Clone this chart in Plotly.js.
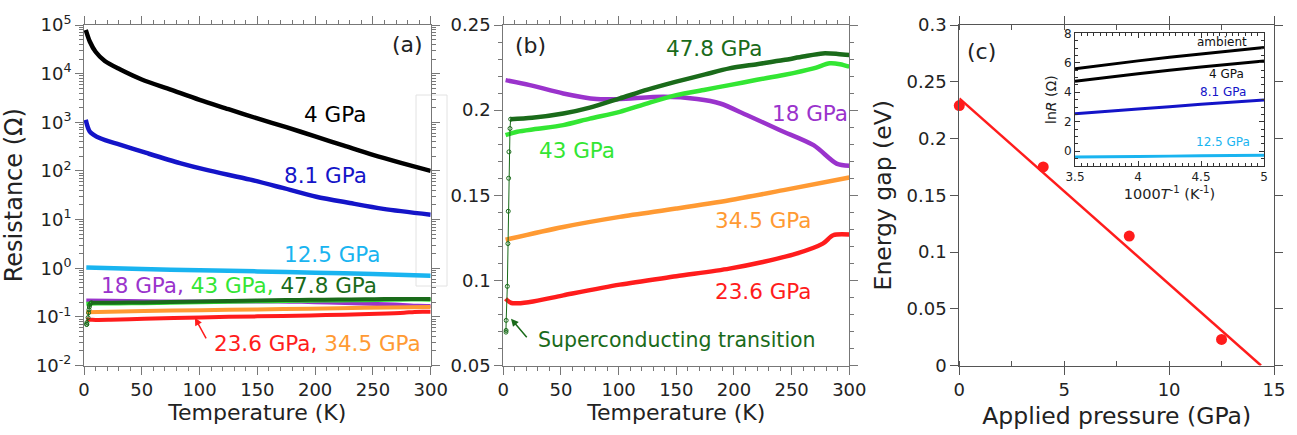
<!DOCTYPE html>
<html><head><meta charset="utf-8">
<script src="https://cdn.plot.ly/plotly-3.0.1.min.js"></script>
<style>html,body{margin:0;padding:0;background:#fff}#chart{width:1297px;height:435px}</style>
</head><body><div id="chart"></div>
<script>
// ---------- Panel (a): log resistance ----------
const T_4 = [1.5,5,10,18,31,50,75,100,125,150,175,200,225,250,275,300];
const R_4 = [79400,45700,28200,18200,12300,7590,4680,2880,1860,1200,794,513,331,214,145,100];
const T_81 = [1.5,5,14,31,54,83,106,144,172,201,230,259,300];
const R_81 = [1122,646,468,347,234,145,105,66.1,44.7,29.5,21.9,16.6,12.6];
const T_125 = [2,50,100,150,200,250,300];
const R_125 = [1.04,0.96,0.91,0.86,0.81,0.76,0.70];
const logTickVals = [0.01,0.1,1,10,100,1000,10000,100000];
const logTickText = ['10<sup>-2</sup>','10<sup>-1</sup>','10<sup>0</sup>','10<sup>1</sup>','10<sup>2</sup>','10<sup>3</sup>','10<sup>4</sup>','10<sup>5</sup>'];

// ---------- Panel (b): linear resistance ----------
const T_478 = [6,25,52,75,101,125,150,175,196,220,243,260,277,290,300];
const R_478 = [0.1947,0.1955,0.198,0.2015,0.2069,0.212,0.2167,0.2210,0.2245,0.227,0.2294,0.2315,0.2333,0.2330,0.2324];
const T_sc = [2.3,2.4,2.5,3.5,4.0,4.3,4.6,4.9,5.8,6.4];
const R_sc = [0.0696,0.0706,0.0765,0.0965,0.1216,0.1406,0.160,0.1755,0.1892,0.1947];
const T_43 = [2,12,30,52,75,101,125,150,175,196,220,243,269,283,292,300];
const R_43 = [0.1853,0.1873,0.189,0.1912,0.195,0.199,0.204,0.2088,0.212,0.2147,0.2178,0.2206,0.2245,0.2275,0.227,0.2255];
const T_18 = [2,23,52,81,101,139,168,188,211,240,269,289,300];
const R_18 = [0.2176,0.2147,0.2098,0.2065,0.2065,0.2078,0.2065,0.2039,0.1971,0.1882,0.1794,0.1686,0.1673];
const T_345 = [2,52,101,150,196,243,300];
const R_345 = [0.1239,0.1314,0.1373,0.1422,0.1471,0.153,0.1604];
const T_236 = [2,7,23,52,101,150,196,225,254,277,286,300];
const R_236 = [0.0892,0.0867,0.0873,0.0912,0.0975,0.1024,0.1069,0.1108,0.1157,0.1216,0.1265,0.1269];

// ---------- Panel (c): energy gap ----------
const pressure = [0,4,8.1,12.5];
const energyGap = [0.229,0.175,0.114,0.023];
const fitP = [0,14.38];
const fitE = [0.2353,0];

// ---------- Inset ----------
const invT = [3.5,4,4.5,5];
const lnR_amb = [5.6,6.13,6.6,7.04];
const lnR_4 = [4.75,5.26,5.72,6.13];
const lnR_81 = [2.54,2.86,3.18,3.47];
const lnR_125 = [-0.39,-0.35,-0.31,-0.27];

const C = {black:'#000000', blue:'#1414c8', cyan:'#19b4f0', purple:'#9a33cc',
  lgreen:'#33e633', dgreen:'#1a6b1a', orange:'#ff9a33', red:'#ff1c1c'};
const FONT = 'DejaVu Sans';
const W = 1297, H = 435;
const px = v => v / W, py = v => (H - v) / H;

// minor tick positions for the log axis (2..9 per decade)
const logMinor = [];
for (let e = -2; e < 5; e++) for (let m = 2; m <= 9; m++) logMinor.push(m * Math.pow(10, e));

function ln(x, y, color, xa, ya, w, extra) {
  return Object.assign({x, y, xaxis: xa, yaxis: ya, mode: 'lines',
    line: {color, width: w, shape: 'spline', smoothing: 0.8}, hoverinfo: 'skip', showlegend: false}, extra || {});
}

const traces = [
  // (a)
  ln(T_4, R_4, C.black, 'x', 'y', 4.5),
  ln(T_81, R_81, C.blue, 'x', 'y', 4.5),
  ln(T_125, R_125, C.cyan, 'x', 'y', 4.5),
  ln(T_18, R_18, C.purple, 'x', 'y', 4),
  ln(T_345, R_345, C.orange, 'x', 'y', 4),
  ln(T_236, R_236, C.red, 'x', 'y', 4),
  ln(T_43, R_43, C.lgreen, 'x', 'y', 4),
  ln(T_478, R_478, C.dgreen, 'x', 'y', 4),
  {x: T_sc, y: R_sc, xaxis: 'x', yaxis: 'y', mode: 'lines+markers', line: {color: C.dgreen, width: 1},
   marker: {symbol: 'circle-open', size: 4, color: C.dgreen}, hoverinfo: 'skip', showlegend: false},
  // (b)
  ln(T_18, R_18, C.purple, 'x2', 'y2', 4.5),
  ln(T_345, R_345, C.orange, 'x2', 'y2', 4.5),
  ln(T_236, R_236, C.red, 'x2', 'y2', 4.5),
  ln(T_43, R_43, C.lgreen, 'x2', 'y2', 4.5),
  ln(T_478, R_478, C.dgreen, 'x2', 'y2', 4.5),
  {x: T_sc, y: R_sc, xaxis: 'x2', yaxis: 'y2', mode: 'lines+markers', line: {color: C.dgreen, width: 1},
   marker: {symbol: 'circle-open', size: 4, color: C.dgreen}, hoverinfo: 'skip', showlegend: false},
  // (c)
  {x: fitP, y: fitE, xaxis: 'x3', yaxis: 'y3', mode: 'lines', line: {color: C.red, width: 2.5}, hoverinfo: 'skip', showlegend: false},
  {x: pressure, y: energyGap, xaxis: 'x3', yaxis: 'y3', mode: 'markers', marker: {color: C.red, size: 11}, cliponaxis: false, hoverinfo: 'skip', showlegend: false},
  // inset
  ln(invT, lnR_amb, C.black, 'x4', 'y4', 3),
  ln(invT, lnR_4, C.black, 'x4', 'y4', 3),
  ln(invT, lnR_81, C.blue, 'x4', 'y4', 3),
  ln(invT, lnR_125, C.cyan, 'x4', 'y4', 3),
];

const AX = '#777777';
function axis(o) {
  return Object.assign({showgrid: false, zeroline: false, showline: true, linecolor: AX, linewidth: 1,
    mirror: 'ticks', ticks: 'outside', tickcolor: AX, ticklen: 8, tickwidth: 1,
    tickfont: {family: FONT, size: 18, color: '#222'}}, o);
}
const yDom = [py(365.5), py(25)];

const layout = {
  width: W, height: H, margin: {l: 0, r: 0, t: 0, b: 0},
  paper_bgcolor: '#fff', plot_bgcolor: 'rgba(0,0,0,0)',
  font: {family: FONT, color: '#222'},
  xaxis: axis({domain: [px(84), px(430.7)], range: [0, 300], dtick: 50, anchor: 'y',
    minor: {dtick: 10, ticks: 'outside', ticklen: 4, tickcolor: AX},
    title: {text: 'Temperature (K)', font: {family: FONT, size: 22, color: '#222'}, standoff: 2}}),
  yaxis: axis({domain: yDom, type: 'log', range: [-2, 5], tickmode: 'array', tickvals: logTickVals, ticktext: logTickText, anchor: 'x',
    minor: {tickmode: 'array', tickvals: logMinor, ticks: 'outside', ticklen: 4, tickcolor: AX},
    title: {text: 'Resistance (Ω)', font: {family: FONT, size: 24, color: '#222'}, standoff: 6}}),
  xaxis2: axis({domain: [px(503.3), px(849.3)], range: [0, 300], dtick: 50, anchor: 'y2',
    minor: {dtick: 10, ticks: 'outside', ticklen: 4, tickcolor: AX},
    title: {text: 'Temperature (K)', font: {family: FONT, size: 22, color: '#222'}, standoff: 2}}),
  yaxis2: axis({domain: yDom, range: [0.05, 0.25], dtick: 0.05, anchor: 'x2', tickformat: '.2~f',
    minor: {dtick: 0.01, ticks: 'outside', ticklen: 4, tickcolor: AX}}),
  xaxis3: axis({domain: [px(959.3), px(1274)], range: [0, 15], dtick: 5, anchor: 'y3', linecolor: '#555', tickcolor: '#555',
    minor: {dtick: 2.5, ticks: 'inside', ticklen: 5, tickcolor: '#555'},
    title: {text: 'Applied pressure (GPa)', font: {family: FONT, size: 23.5, color: '#222'}, standoff: 8}}),
  yaxis3: axis({domain: yDom, range: [0, 0.3], dtick: 0.05, anchor: 'x3', linecolor: '#555', tickcolor: '#555',
    tickformat: '.2~f',
    title: {text: 'Energy gap (eV)', font: {family: FONT, size: 23.5, color: '#222'}, standoff: 8}}),
  xaxis4: axis({domain: [px(1075), px(1264)], range: [3.5, 5], dtick: 0.5, anchor: 'y4', linecolor: '#333', tickcolor: '#333',
    ticks: 'inside', ticklen: 5, tickfont: {family: FONT, size: 12, color: '#222'},
    minor: {dtick: 0.05, ticks: 'inside', ticklen: 3, tickcolor: '#333'},
    title: {text: '1000<i>T</i><sup>-1</sup> (K<sup>-1</sup>)', font: {family: FONT, size: 14.5, color: '#222'}, standoff: 2}}),
  yaxis4: axis({domain: [py(166), py(33.3)], range: [-1, 8], dtick: 2, anchor: 'x4', linecolor: '#333', tickcolor: '#333',
    ticks: 'inside', ticklen: 5, tickfont: {family: FONT, size: 12, color: '#222'},
    minor: {dtick: 0.5, ticks: 'inside', ticklen: 3, tickcolor: '#333'},
    title: {text: 'ln<i>R</i> (Ω)', font: {family: FONT, size: 14, color: '#222'}, standoff: 4}}),
  shapes: [
    {type: 'rect', xref: 'paper', yref: 'paper', x0: px(416), x1: px(447), y0: py(286), y1: py(95),
     line: {color: '#e2e2e2', width: 1}, layer: 'below'}
  ],
  annotations: []
};

function ann(x, y, xr, yr, text, color, size, extra) {
  layout.annotations.push(Object.assign({x, y, xref: xr, yref: yr, text, showarrow: false,
    font: {family: FONT, size: size || 21.5, color}}, extra || {}));
}
// (a)
ann(279.5, 4.59, 'x', 'y', '(a)', '#222', 22);
ann(217, 3.15, 'x', 'y', '4 GPa', C.black);
ann(209, 1.90, 'x', 'y', '8.1 GPa', C.blue);
ann(215, 0.277, 'x', 'y', '12.5 GPa', C.cyan);
ann(134, -0.36, 'x', 'y',
  '<span style="color:' + C.purple + '">18 GPa,</span> <span style="color:' + C.lgreen + '">43 GPa,</span> <span style="color:' + C.dgreen + '">47.8 GPa</span>', '#222');
ann(202, -1.54, 'x', 'y',
  '<span style="color:' + C.red + '">23.6 GPa,</span> <span style="color:' + C.orange + '">34.5 GPa</span>', '#222');
layout.annotations.push({x: 96, y: -1.02, xref: 'x', yref: 'y', ax: 12, ay: 22, showarrow: true,
  arrowhead: 2, arrowsize: 1, arrowwidth: 1.5, arrowcolor: C.red, text: ''});
// (b)
ann(23.8, 0.2382, 'x2', 'y2', '(b)', '#222', 22);
ann(183.5, 0.2363, 'x2', 'y2', '47.8 GPa', C.dgreen);
ann(63.9, 0.1765, 'x2', 'y2', '43 GPa', C.lgreen);
ann(265.9, 0.1981, 'x2', 'y2', '18 GPa', C.purple);
ann(225.8, 0.1353, 'x2', 'y2', '34.5 GPa', C.orange);
ann(225.8, 0.0932, 'x2', 'y2', '23.6 GPa', C.red);
ann(150.3, 0.0648, 'x2', 'y2', 'Superconducting transition', C.dgreen, 20.5);
layout.annotations.push({x: 6.7, y: 0.0775, xref: 'x2', yref: 'y2', ax: 17, ay: 20, showarrow: true,
  arrowhead: 2, arrowsize: 1, arrowwidth: 1.5, arrowcolor: C.dgreen, text: ''});
// (c)
ann(1.08, 0.2764, 'x3', 'y3', '(c)', '#222', 22);
ann(4.667, 7.42, 'x4', 'y4', 'ambient', '#111', 12);
ann(4.706, 5.21, 'x4', 'y4', '4 GPa', '#111', 12);
ann(4.675, 4.0, 'x4', 'y4', '8.1 GPa', C.blue, 12);
ann(4.675, 0.64, 'x4', 'y4', '12.5 GPa', C.cyan, 12);

Plotly.newPlot('chart', traces, layout, {staticPlot: true, displayModeBar: false});
</script></body></html>
